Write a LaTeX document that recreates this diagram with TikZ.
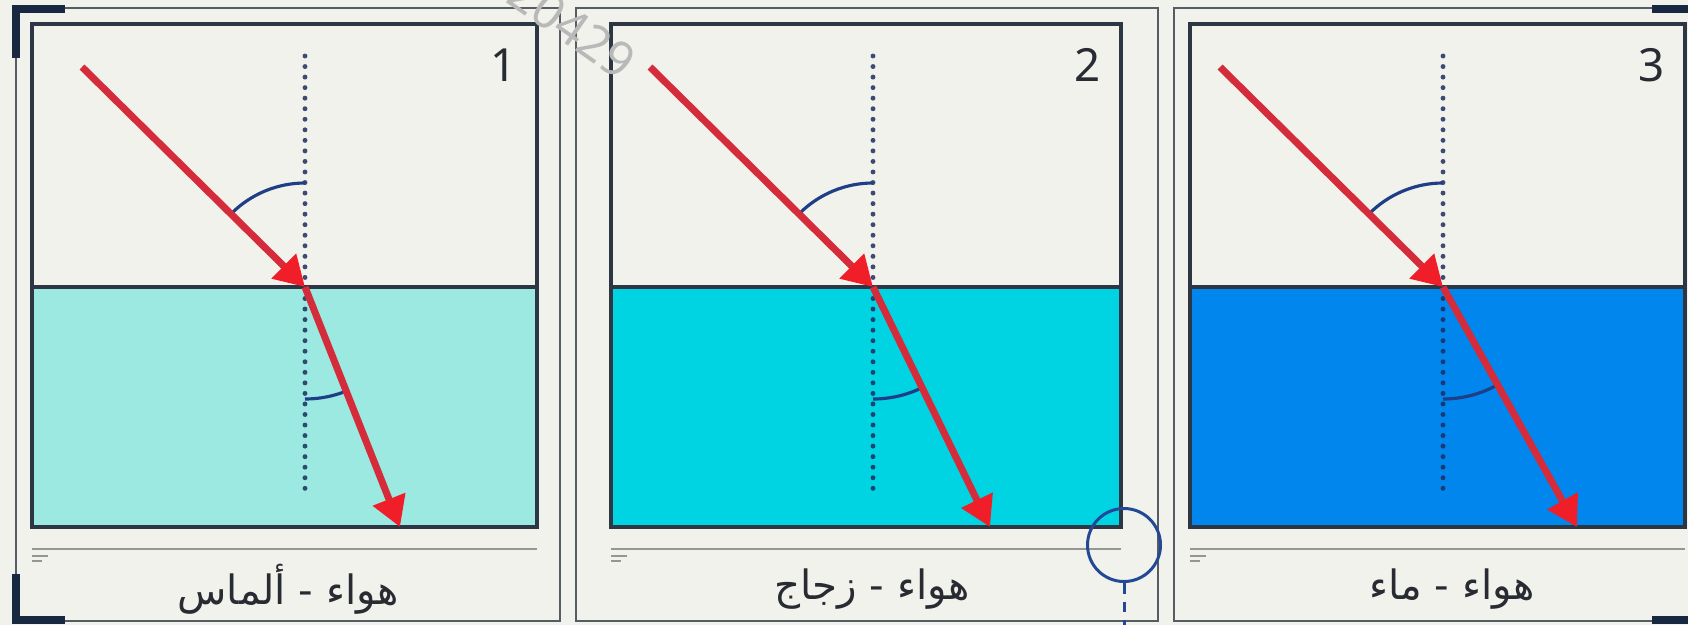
\documentclass[tikz,border=0pt]{standalone}
\usepackage{fontspec}
\usepackage{xcolor}
\usepackage{tikz}
\usetikzlibrary{arrows.meta}
\TeXXeTstate=1
\newfontfamily\arabicfont[Script=Arabic]{DejaVu Sans}
\newfontfamily\numfont{Noto Sans}
\definecolor{paperbg}{RGB}{242,242,237}
\definecolor{framegrey}{RGB}{85,92,100}
\definecolor{boxgrey}{RGB}{45,55,68}
\definecolor{liqone}{RGB}{155,233,224}
\definecolor{liqtwo}{RGB}{0,211,226}
\definecolor{liqthree}{RGB}{0,134,236}
\definecolor{raydark}{RGB}{212,44,58}
\definecolor{rayhead}{RGB}{240,30,40}
\definecolor{normalblue}{RGB}{30,45,95}
\definecolor{arcblue}{RGB}{30,62,135}
\definecolor{cornerdark}{RGB}{25,40,65}
\definecolor{sepgrey}{RGB}{150,150,150}
\definecolor{labeltext}{RGB}{40,44,50}
\definecolor{markblue}{RGB}{35,72,150}
\definecolor{wmgrey}{RGB}{185,185,185}

\begin{document}
\begin{tikzpicture}[x=0.1mm, y=0.1mm,
      panelframe/.style={draw=framegrey, line width=0.8pt},
      inbox/.style={draw=boxgrey, line width=0.9pt},
      ray/.style={draw=raydark, line width=2pt,
                  -{Triangle[length=8.5pt,width=9.5pt,color=rayhead]}},
      normline/.style={draw=normalblue, line width=1.4pt, line cap=round,
                  dash pattern=on 0pt off 3pt, opacity=0.85},
      angarc/.style={draw=arcblue, line width=0.9pt},
      brk/.style={draw=cornerdark, line width=2.3pt},
      sepline/.style={draw=sepgrey, line width=0.7pt},
      lbl/.style={font=\arabicfont\fontsize{11.5}{14}\selectfont, text=labeltext},
      num/.style={font=\numfont\fontsize{13}{15}\selectfont, text=labeltext}
  ]
    \fill[paperbg] (0,0) rectangle (1688,625);
    \useasboundingbox (0,0) rectangle (1688,625);
    % outer frames
    \draw[panelframe] (16,4) rectangle (560,617);
    \draw[panelframe] (576,4) rectangle (1158,617);
    \draw[panelframe] (1174,4) rectangle (1710,617);
    \foreach \n/\xl/\xr/\xn/\xd/\ang/\liq/\txt/\xt in
        {1/32/537/305/400/21.6/liqone/{هواء - ألماس}/288,
         2/611/1121/873/990/26/liqtwo/{هواء - زجاج}/872,
         3/1190/1685/1443/1577/29.2/liqthree/{هواء - ماء}/1452}{
      \fill[\liq] (\xl,98) rectangle (\xr,338);
      \draw[inbox] (\xl,98) rectangle (\xr,601);
      \draw[boxgrey, line width=0.9pt] (\xl,338) -- (\xr,338);
      \coordinate (nt\n) at (\xn,569);
      \coordinate (nb\n) at (\xn,132);
      \coordinate (src\n) at (\xn-223,558);
      \coordinate (hit\n) at (\xn,338);
      \coordinate (dst\n) at (\xd,98);
      \draw[normline] (nt\n) -- (nb\n);
      \draw[angarc] (\xn,442) arc[start angle=90, end angle=135, radius=10.4mm];
      \draw[angarc] (\xn,226) arc[start angle=270, end angle=270+\ang, radius=11.2mm];
      \draw[ray] (src\n) -- (hit\n);
      \draw[ray] (hit\n) -- (dst\n);
      \draw[sepline] (\xl,76) -- (\xr,76);
      \draw[sepline, line width=0.4pt] (\xl,69) -- ++(16,0) (\xl,64) -- ++(10,0);
      \node[lbl] (lab\n) at (\xt,36) {\beginR\txt\endR};
      \node[num] (num\n) at (\xr-33,560) {\n};
    }
    % corner brackets
    \draw[brk] (16,567) -- (16,616) -- (65,616);
    \draw[brk] (16,51) -- (16,5) -- (65,5);
    \draw[brk] (1652,616) -- (1700,616);
    \draw[brk] (1652,5) -- (1700,5);
    % marker
    \node[draw=markblue, line width=0.85pt, circle, minimum size=7.3mm,
          inner sep=0pt] (mark) at (1124,80) {};
    \coordinate (markend) at (1124,0);
    \draw[markblue, line width=0.85pt, dash pattern=on 3pt off 2.3pt]
        (mark.south) -- (markend);
    \node[rotate=-35, text=wmgrey, font=\numfont\fontsize{14}{16}\selectfont]
        (stamp) at (572,598) {20429};
  \end{tikzpicture}
\end{document}
